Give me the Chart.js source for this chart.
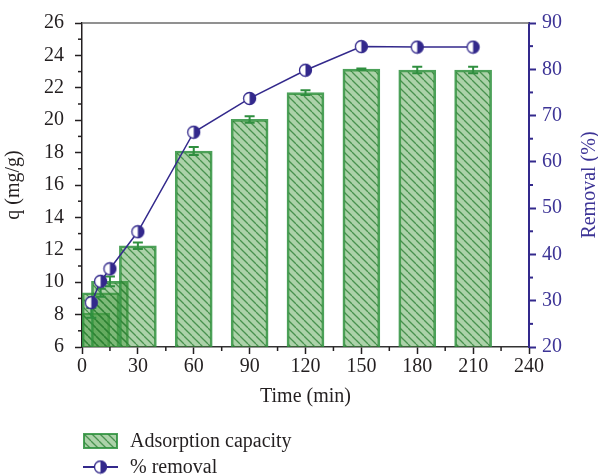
<!DOCTYPE html>
<html>
<head>
    <title>Adsorption capacity and removal</title>
    <script src="https://cdn.jsdelivr.net/npm/chart.js"></script>
    <style>
        body { margin: 0; background: #fff; }
        #wrap { position: relative; width: 598px; height: 476px; }
        .leg { position: absolute; font: 20px 'Liberation Serif', serif; color: #231f20; line-height: 20px; white-space: nowrap; }
    </style>
</head>
<body>
<div id="wrap">
    <canvas id="adsChart" width="598" height="476"></canvas>
    <canvas id="legBar" class="leg" width="35" height="16" style="left:83px;top:433px"></canvas>
    <div class="leg" style="left:130px;top:430px">Adsorption capacity</div>
    <canvas id="legLine" class="leg" width="35" height="16" style="left:83px;top:459px"></canvas>
    <div class="leg" style="left:130px;top:456px">% removal</div>
</div>
<script>
    // data
    const times = [5, 10, 15, 30, 60, 90, 120, 150, 180, 210];
    const qValues = [8.1, 9.35, 10.05, 12.25, 18.1, 20.05, 21.7, 23.15, 23.1, 23.1];
    const qErrors = [0.3, 0.25, 0.3, 0.2, 0.25, 0.2, 0.15, 0.04, 0.2, 0.2];
    const removal = [29.6, 34.2, 36.9, 44.9, 66.4, 73.7, 79.8, 84.9, 84.8, 84.8];

    const xTicks = [0, 30, 60, 90, 120, 150, 180, 210, 240];
    const qTicks = [6, 8, 10, 12, 14, 16, 18, 20, 22, 24, 26];
    const removalTicks = [20, 30, 40, 50, 60, 70, 80, 90];

    const navy = '#33298c';
    const navyText = '#3d3496';
    const green = '#2f8f3f';
    const ink = '#231f20';

    Chart.defaults.font.family = "'Liberation Serif', 'Times New Roman', serif";
    Chart.defaults.font.size = 20;
    Chart.defaults.color = ink;

    // hatch pattern for the bars
    function makeHatch() {
        var c = document.createElement('canvas');
        c.width = 8; c.height = 8;
        var g = c.getContext('2d');
        g.fillStyle = 'rgba(70,155,65,0.45)';
        g.fillRect(0, 0, 8, 8);
        g.strokeStyle = 'rgba(40,125,50,0.75)';
        g.lineWidth = 1.3;
        [-8, 0, 8].forEach(function(o) {
            g.beginPath();
            g.moveTo(o, 0);
            g.lineTo(o + 8, 8);
            g.stroke();
        });
        return c;
    }
    var hatchTile = makeHatch();

    // half filled circle marker
    function makeMarker() {
        var c = document.createElement('canvas');
        c.width = 15; c.height = 15;
        var g = c.getContext('2d');
        g.beginPath(); g.arc(7.5, 7.5, 6, 0, Math.PI * 2);
        g.fillStyle = '#fff'; g.fill();
        g.beginPath(); g.arc(7.5, 7.5, 6, -Math.PI / 2, Math.PI / 2);
        g.closePath(); g.fillStyle = navy; g.fill();
        g.beginPath(); g.arc(7.5, 7.5, 6, 0, Math.PI * 2);
        g.strokeStyle = navy; g.lineWidth = 1.3; g.stroke();
        return c;
    }
    var marker = makeMarker();

    var ctx = document.getElementById('adsChart').getContext('2d');
    var hatch = ctx.createPattern(hatchTile, 'repeat');

    function minorTicks(major) {
        var out = [];
        for (var i = 0; i < major.length - 1; i++) out.push((major[i] + major[i + 1]) / 2);
        return out;
    }

    var axisExtras = {
        id: 'axisExtras',
        afterDatasetDraw: function(chart, args) {
            if (args.index !== 0) return;
            // error bars for the bars
            var c = chart.ctx, ys = chart.scales.y;
            var meta = chart.getDatasetMeta(0);
            c.save();
            c.strokeStyle = green;
            c.lineWidth = 2;
            meta.data.forEach(function(bar, i) {
                var hi = ys.getPixelForValue(qValues[i] + qErrors[i]);
                var lo = ys.getPixelForValue(qValues[i] - qErrors[i]);
                c.beginPath();
                c.moveTo(bar.x, hi); c.lineTo(bar.x, lo);
                c.moveTo(bar.x - 5, hi); c.lineTo(bar.x + 5, hi);
                c.moveTo(bar.x - 5, lo); c.lineTo(bar.x + 5, lo);
                c.stroke();
            });
            c.restore();
        },
        afterDraw: function(chart) {
            var c = chart.ctx, a = chart.chartArea, s = chart.scales;
            c.save();
            // top frame line
            c.strokeStyle = '#6d6d6d';
            c.lineWidth = 1.5;
            c.beginPath(); c.moveTo(a.left, a.top); c.lineTo(a.right, a.top); c.stroke();
            // minor ticks
            c.lineWidth = 1.5;
            c.strokeStyle = ink;
            minorTicks(xTicks).forEach(function(v) {
                var px = s.x.getPixelForValue(v);
                c.beginPath(); c.moveTo(px, a.bottom); c.lineTo(px, a.bottom + 4); c.stroke();
            });
            minorTicks(qTicks).forEach(function(v) {
                var py = s.y.getPixelForValue(v);
                c.beginPath(); c.moveTo(a.left, py); c.lineTo(a.left - 4, py); c.stroke();
            });
            c.strokeStyle = navy;
            c.lineWidth = 2;
            minorTicks(removalTicks).forEach(function(v) {
                var py = s.y1.getPixelForValue(v);
                c.beginPath(); c.moveTo(a.right, py); c.lineTo(a.right + 4, py); c.stroke();
            });
            // right axis title, reading bottom to top
            c.fillStyle = navyText;
            c.font = "20px 'Liberation Serif', serif";
            c.textAlign = 'center';
            c.textBaseline = 'middle';
            c.translate(590, (a.top + a.bottom) / 2);
            c.rotate(-Math.PI / 2);
            c.fillText('Removal (%)', 0, 0);
            c.restore();
        }
    };

    new Chart(ctx, {
        data: {
            datasets: [
                {
                    type: 'bar',
                    label: 'Adsorption capacity',
                    data: times.map(function(t, i) { return { x: t, y: qValues[i] }; }),
                    backgroundColor: hatch,
                    borderColor: 'rgba(45,145,60,0.85)',
                    borderWidth: 2,
                    barThickness: 37,
                    clip: 0,
                    xAxisID: 'x',
                    yAxisID: 'y',
                    order: 2
                },
                {
                    type: 'line',
                    label: '% removal',
                    data: times.map(function(t, i) { return { x: t, y: removal[i] }; }),
                    borderColor: navy,
                    borderWidth: 1.5,
                    pointStyle: marker,
                    pointRadius: 6,
                    tension: 0,
                    xAxisID: 'x',
                    yAxisID: 'y1',
                    order: 1
                }
            ]
        },
        options: {
            responsive: false,
            animation: false,
            layout: { padding: { top: 20, bottom: 63, left: 0, right: 0 } },
            plugins: {
                legend: { display: false },
                tooltip: { enabled: false }
            },
            scales: {
                x: {
                    type: 'linear',
                    offset: false,
                    min: 0,
                    max: 240,
                    afterBuildTicks: function(scale) { scale.ticks = xTicks.map(function(v) { return { value: v }; }); },
                    afterFit: function(scale) { scale.height = 66; },
                    ticks: { color: ink, padding: 1, maxRotation: 0 },
                    grid: { offset: false, drawOnChartArea: false, tickLength: 7, tickWidth: 1.5, tickColor: ink },
                    border: { color: '#333', width: 1.5 },
                    title: { display: true, text: 'Time (min)', color: ink, padding: { top: 4, bottom: 4 } }
                },
                y: {
                    position: 'left',
                    min: 6,
                    max: 26,
                    afterBuildTicks: function(scale) { scale.ticks = qTicks.map(function(v) { return { value: v }; }); },
                    afterFit: function(scale) { scale.width = 82; },
                    ticks: { color: ink, padding: 11 },
                    grid: { drawOnChartArea: false, tickLength: 7, tickWidth: 1.5, tickColor: ink },
                    border: { color: ink, width: 1.5 },
                    title: { display: true, text: 'q (mg/g)', color: ink, padding: { top: 2, bottom: 2 } }
                },
                y1: {
                    position: 'right',
                    min: 20,
                    max: 90,
                    afterBuildTicks: function(scale) { scale.ticks = removalTicks.map(function(v) { return { value: v }; }); },
                    afterFit: function(scale) { scale.width = 69; },
                    ticks: { color: navyText, padding: 6 },
                    grid: { drawOnChartArea: false, tickLength: 7, tickWidth: 2, tickColor: navy },
                    border: { color: navy, width: 2 }
                }
            }
        },
        plugins: [axisExtras]
    });

    // legend symbols
    var lb = document.getElementById('legBar').getContext('2d');
    lb.fillStyle = lb.createPattern(hatchTile, 'repeat');
    lb.fillRect(1, 1, 33, 14);
    lb.strokeStyle = 'rgba(45,145,60,0.85)';
    lb.lineWidth = 2;
    lb.strokeRect(1, 1, 33, 14);

    var ll = document.getElementById('legLine').getContext('2d');
    ll.strokeStyle = navy;
    ll.lineWidth = 2;
    ll.beginPath(); ll.moveTo(0, 8); ll.lineTo(35, 8); ll.stroke();
    ll.drawImage(marker, 10, 0.5);
</script>
</body>
</html>
